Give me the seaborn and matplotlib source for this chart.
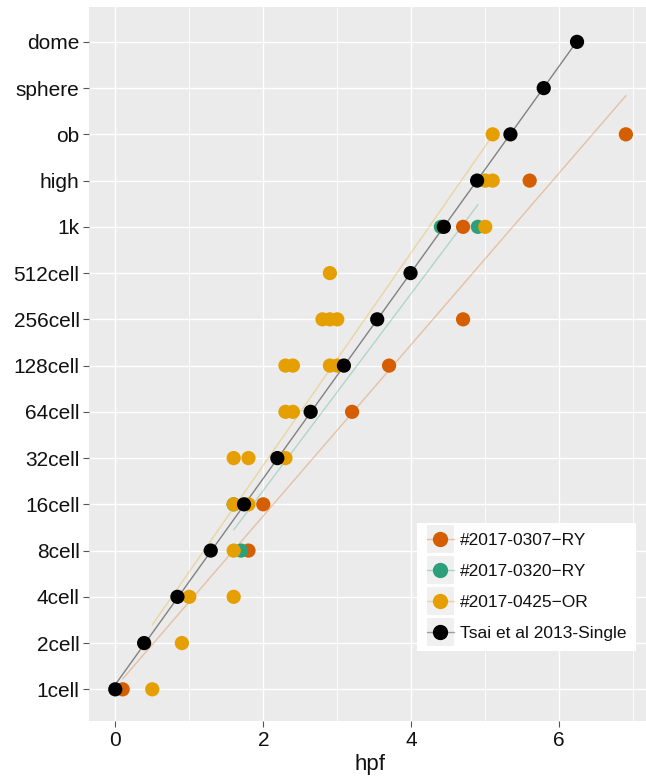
import pandas as pd
import matplotlib
matplotlib.use("Agg")
import matplotlib.pyplot as plt
import seaborn as sns
from matplotlib.lines import Line2D
from matplotlib.patches import Rectangle
from matplotlib.legend_handler import HandlerLine2D

# stages on the y axis (bottom to top)
stages = ['1cell', '2cell', '4cell', '8cell', '16cell', '32cell', '64cell', '128cell',
          '256cell', '512cell', '1k', 'high', 'ob', 'sphere', 'dome']

ry0307_stage = ['1cell', '8cell', '16cell', '64cell', '128cell', '256cell', '1k', 'high', 'ob']
ry0307_hpf = [0.1, 1.8, 2.0, 3.2, 3.7, 4.7, 4.7, 5.6, 6.9]

ry0320_stage = ['8cell', '16cell', '1k', '1k']
ry0320_hpf = [1.7, 1.6, 4.4, 4.9]

or0425_stage = ['1cell', '2cell', '4cell', '4cell', '8cell', '16cell', '16cell', '32cell', '32cell',
                '32cell', '64cell', '64cell', '128cell', '128cell', '128cell', '128cell', '256cell',
                '256cell', '256cell', '512cell', '1k', 'high', 'high', 'ob']
or0425_hpf = [0.5, 0.9, 1.0, 1.6, 1.6, 1.6, 1.8, 1.6, 1.8, 2.3, 2.3, 2.4, 2.3, 2.4, 2.9, 3.0,
              2.8, 2.9, 3.0, 2.9, 5.0, 5.0, 5.1, 5.1]

tsai_stage = stages
tsai_hpf = [0, 0.39, 0.84, 1.29, 1.74, 2.19, 2.64, 3.09, 3.54, 3.99, 4.44, 4.89, 5.34, 5.79, 6.24]

groups = ['#2017-0307\u2212RY', '#2017-0320\u2212RY', '#2017-0425\u2212OR', 'Tsai et al 2013-Single']
colors = ['#D55E00', '#2BA07B', '#E69F00', '#000000']

frames = []
for g, st, hp in zip(groups,
                     [ry0307_stage, ry0320_stage, or0425_stage, tsai_stage],
                     [ry0307_hpf, ry0320_hpf, or0425_hpf, tsai_hpf]):
    frames.append(pd.DataFrame({'hpf': hp, 'stage': st, 'group': g}))
df = pd.concat(frames, ignore_index=True)
df['idx'] = df['stage'].map({s: i for i, s in enumerate(stages)})

sns.set_theme(style='darkgrid', rc={'axes.facecolor': '#EBEBEB', 'grid.color': 'white'})
plt.rcParams['font.family'] = ['Liberation Sans', 'DejaVu Sans']

fig = plt.figure(figsize=(6.46, 7.80), dpi=100)
ax = fig.add_axes([89.3 / 646, 59 / 780, 562.1 / 646, 714.3 / 780])

# lm fit per group, drawn under the points
for g, c in zip(groups, colors):
    sub = df[df['group'] == g]
    a = 0.45 if g.startswith('Tsai') else 0.3
    sns.regplot(data=sub, x='hpf', y='idx', scatter=False, ci=None, color=c,
                line_kws=dict(lw=1.0, alpha=a), ax=ax)

sns.scatterplot(data=df, x='hpf', y='idx', hue='group', palette=dict(zip(groups, colors)),
                s=105, linewidth=0, legend=False, ax=ax, zorder=3)

ax.set_xlim(-0.351, 7.245)
ax.set_ylim(-0.685, 14.76)
ax.set_yticks(range(len(stages)))
ax.set_yticklabels(stages)
ax.set_xticks([0, 2, 4, 6])
ax.set_xticks([1, 3, 5, 7], minor=True)
ax.grid(which='major', color='white', lw=1.0)
ax.grid(which='minor', axis='x', color='white', lw=0.6)
for s in ax.spines.values():
    s.set_visible(False)
ax.tick_params(axis='both', which='major', length=4, width=0.8, color='#555555',
               labelsize=15, labelcolor='#111111', pad=3, left=True, bottom=True)
ax.tick_params(axis='x', which='minor', length=0)
ax.set_xlabel('hpf', fontsize=16, color='#111111', labelpad=3)
ax.set_ylabel('')


class KeyHandler(HandlerLine2D):
    # grey key background like ggplot legends
    def create_artists(self, legend, orig_handle, xdescent, ydescent, width, height, fontsize, trans):
        arts = super().create_artists(legend, orig_handle, xdescent, ydescent, width, height, fontsize, trans)
        bg = Rectangle((-xdescent, -ydescent - 0.45 * fontsize), width, height + 0.9 * fontsize,
                       facecolor='#F0F0F0', edgecolor='none', transform=trans)
        return [bg] + list(arts)


handles = []
for c in colors:
    h = Line2D([0], [0], color=matplotlib.colors.to_rgba(c, 0.35), lw=1, marker='o',
               markersize=10, markerfacecolor=c, markeredgecolor=c)
    handles.append(h)
leg = ax.legend(handles, groups, loc='lower left', bbox_to_anchor=(0.583, 0.098),
                borderaxespad=0, frameon=True, fancybox=False, facecolor='white',
                edgecolor='none', framealpha=1, fontsize=12.5, handlelength=1.6,
                handletextpad=0.3, labelspacing=0.92, borderpad=0.55,
                handler_map={Line2D: KeyHandler()})
for t in leg.get_texts():
    t.set_color('#111111')

fig.savefig('out.png', dpi=100)
